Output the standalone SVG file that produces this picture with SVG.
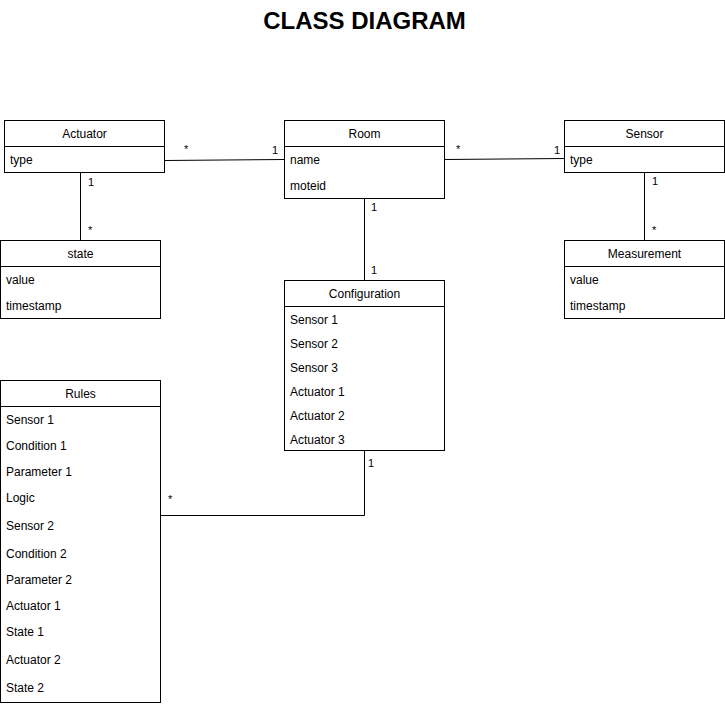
<svg xmlns="http://www.w3.org/2000/svg" width="725" height="706" viewBox="0 0 725 706">
<style>
text{font-family:"Liberation Sans",Arial,Helvetica,sans-serif;font-size:12px;fill:#000}
.t{text-anchor:middle}
.title{font-size:24px;font-weight:bold;text-anchor:middle}
.box{fill:#fff;stroke:#000;stroke-width:1}
.ln{stroke:#000;stroke-width:1;fill:none}
.lbl{font-size:11px}
</style>
<rect width="725" height="706" fill="#fff"/>
<text class="title" x="364.5" y="29">CLASS DIAGRAM</text>
<g id="connectors">
<path class="ln" d="M164.5 160.5 L284.5 159.5"/>
<path class="ln" d="M444.5 159.5 L564.5 158.5"/>
<path class="ln" d="M80.5 172.5 V240.5"/>
<path class="ln" d="M364.5 198.5 V280.5"/>
<path class="ln" d="M644.5 172.5 V240.5"/>
<path class="ln" d="M364.5 450.5 V515.5 H160.5"/>
<text class="lbl" x="184" y="153">*</text>
<text class="lbl" x="272" y="154">1</text>
<text class="lbl" x="456" y="153">*</text>
<text class="lbl" x="554" y="154">1</text>
<text class="lbl" x="88" y="186">1</text>
<text class="lbl" x="88" y="234">*</text>
<text class="lbl" x="371" y="211">1</text>
<text class="lbl" x="371" y="274">1</text>
<text class="lbl" x="652" y="185">1</text>
<text class="lbl" x="652" y="234">*</text>
<text class="lbl" x="368" y="467">1</text>
<text class="lbl" x="168" y="503">*</text>
</g>
<g id="actuator">
<rect class="box" x="4.5" y="120.5" width="160" height="52"/>
<path class="ln" d="M4.5 146.5 H164.5"/>
<text class="t" x="84.5" y="138">Actuator</text>
<text x="10" y="164">type</text>
</g>
<g id="room">
<rect class="box" x="284.5" y="120.5" width="160" height="78"/>
<path class="ln" d="M284.5 146.5 H444.5"/>
<text class="t" x="364.5" y="138">Room</text>
<text x="290" y="164">name</text>
<text x="290" y="190">moteid</text>
</g>
<g id="sensor">
<rect class="box" x="564.5" y="120.5" width="160" height="52"/>
<path class="ln" d="M564.5 146.5 H724.5"/>
<text class="t" x="644.5" y="138">Sensor</text>
<text x="570" y="164">type</text>
</g>
<g id="state">
<rect class="box" x="0.5" y="240.5" width="160" height="78"/>
<path class="ln" d="M0.5 266.5 H160.5"/>
<text class="t" x="80.5" y="258">state</text>
<text x="6" y="284">value</text>
<text x="6" y="310">timestamp</text>
</g>
<g id="measurement">
<rect class="box" x="564.5" y="240.5" width="160" height="78"/>
<path class="ln" d="M564.5 266.5 H724.5"/>
<text class="t" x="644.5" y="258">Measurement</text>
<text x="570" y="284">value</text>
<text x="570" y="310">timestamp</text>
</g>
<g id="configuration">
<rect class="box" x="284.5" y="280.5" width="160" height="170"/>
<path class="ln" d="M284.5 306.5 H444.5"/>
<text class="t" x="364.5" y="298">Configuration</text>
<text x="290" y="324">Sensor 1</text>
<text x="290" y="348">Sensor 2</text>
<text x="290" y="372">Sensor 3</text>
<text x="290" y="396">Actuator 1</text>
<text x="290" y="420">Actuator 2</text>
<text x="290" y="444">Actuator 3</text>
</g>
<g id="rules">
<rect class="box" x="0.5" y="380.5" width="160" height="322"/>
<path class="ln" d="M0.5 406.5 H160.5"/>
<text class="t" x="80.5" y="398">Rules</text>
<text x="6" y="424">Sensor 1</text>
<text x="6" y="450">Condition 1</text>
<text x="6" y="476">Parameter 1</text>
<text x="6" y="502">Logic</text>
<text x="6" y="530">Sensor 2</text>
<text x="6" y="558">Condition 2</text>
<text x="6" y="584">Parameter 2</text>
<text x="6" y="610">Actuator 1</text>
<text x="6" y="636">State 1</text>
<text x="6" y="664">Actuator 2</text>
<text x="6" y="692">State 2</text>
</g>
</svg>
